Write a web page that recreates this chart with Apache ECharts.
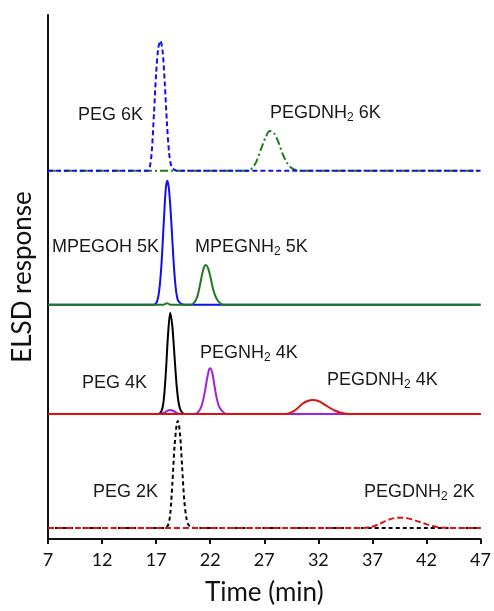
<!DOCTYPE html>
<html>
<head>
<meta charset="utf-8">
<script src="https://cdn.jsdelivr.net/npm/echarts@6/dist/echarts.min.js"></script>
<style>
  html, body { margin: 0; padding: 0; background: #fff; }
  #main { width: 494px; height: 611px; }
</style>
</head>
<body>
<div id="main"></div>
<script>
// tick labels of the time axis (min)
var timeTicks = [7, 12, 17, 22, 27, 32, 37, 42, 47];

// baseline offset of each stacked trace group (response units)
var groupBase = [371, 236, 126, 11];

// [time (min), response above its own baseline]
var peg6k = [[7,0],[16.2,0],[16.4,3],[16.6,20],[16.8,58],[17.0,98],[17.2,124],[17.4,131],[17.6,120],[17.8,88],[18.0,48],[18.2,18],[18.4,5],[18.7,1],[19.1,0],[47,0]];
var pegdnh6k = [[7,0],[25.4,0],[25.9,3],[26.3,10],[26.7,22],[27.1,33],[27.5,40],[27.9,38],[28.3,29],[28.7,17],[29.1,8],[29.5,3],[30.0,0.5],[30.5,0],[47,0]];
var mpegoh5k = [[7,0],[16.8,0],[17.1,4],[17.3,16],[17.5,42],[17.7,82],[17.9,118],[18.05,125],[18.2,115],[18.4,84],[18.6,46],[18.8,18],[19.0,5],[19.3,1],[19.6,0],[47,0]];
var mpegnh5k = [[7,0],[17.6,0],[18.0,1.5],[18.4,0],[20.2,0],[20.5,2],[20.8,8],[21.0,17],[21.2,28],[21.4,37],[21.6,40],[21.8,37],[22.0,29],[22.2,19],[22.4,11],[22.7,4],[23.0,1],[23.3,0],[47,0]];
var peg4k = [[7,0],[17.2,0],[17.5,3],[17.7,14],[17.9,42],[18.1,80],[18.3,102],[18.5,88],[18.7,58],[18.9,28],[19.1,10],[19.3,3],[19.6,0],[47,0]];
var pegnh4k = [[7,0],[17.4,0],[17.8,1.5],[18.1,3.5],[18.3,4],[18.6,3],[18.9,1],[19.3,0],[20.6,0],[20.9,2],[21.2,8],[21.5,22],[21.7,35],[21.9,45],[22.0,46],[22.2,41],[22.4,28],[22.6,16],[22.8,8],[23.1,3],[23.5,0],[47,0]];
var pegdnh4k = [[7,0],[29.0,0],[29.5,1.5],[30.0,5],[30.5,10],[31.0,13],[31.5,14],[32.0,13],[32.5,10],[33.0,6.5],[33.5,3.5],[34.0,1.5],[34.6,0.3],[35.2,0],[47,0]];
var peg2k = [[7,0],[17.8,0],[18.1,3],[18.3,14],[18.5,45],[18.7,82],[18.9,105],[19.0,108],[19.2,96],[19.4,62],[19.6,28],[19.8,10],[20.0,3],[20.3,1],[20.7,0],[47,0]];
var pegdnh2k = [[7,0],[36.0,0],[36.8,1],[37.5,3.5],[38.2,7],[38.9,9.8],[39.6,10.5],[40.3,9.8],[41.0,7.5],[41.7,5],[42.4,2.5],[43.1,1],[43.8,0.3],[44.5,0],[47,0]];

var traces = [
  { name: 'PEGDNH2 6K', data: pegdnh6k, group: 0, color: '#1f7a1f', dash: [8, 3, 2, 3] },
  { name: 'PEG 6K', data: peg6k, group: 0, color: '#1010f0', dash: [5, 3] },
  { name: 'MPEGOH 5K', data: mpegoh5k, group: 1, color: '#1010f0', dash: 'solid' },
  { name: 'MPEGNH2 5K', data: mpegnh5k, group: 1, color: '#1f7a1f', dash: 'solid' },
  { name: 'PEG 4K', data: peg4k, group: 2, color: '#000000', dash: 'solid' },
  { name: 'PEGNH2 4K', data: pegnh4k, group: 2, color: '#a020e0', dash: 'solid' },
  { name: 'PEGDNH2 4K', data: pegdnh4k, group: 2, color: '#dd1111', dash: 'solid' },
  { name: 'PEG 2K', data: peg2k, group: 3, color: '#000000', dash: [4, 3] },
  { name: 'PEGDNH2 2K', data: pegdnh2k, group: 3, color: '#dd1111', dash: [6, 3] }
];

var labelFont = '"Liberation Sans", Arial, sans-serif';
var richSub = {
  n: { fontSize: 18, fontFamily: labelFont, fill: '#1a1a1a' },
  s: { fontSize: 12, fontFamily: labelFont, fill: '#1a1a1a', padding: [10, 0, 0, 0] }
};

function peakLabel(text, x, y, align) {
  return {
    type: 'text',
    x: x,
    y: y,
    z: 10,
    style: {
      text: text,
      rich: richSub,
      align: align || 'left',
      verticalAlign: 'middle',
      fontSize: 18,
      fontFamily: labelFont,
      fill: '#1a1a1a'
    }
  };
}

var myChart = echarts.init(document.getElementById('main'));
option = {
  backgroundColor: '#fff',
  animation: false,
  grid: {
    left: 48,
    right: 11,
    top: 15,
    bottom: 68
  },
  xAxis: {
    type: 'value',
    min: 7,
    max: 47,
    name: 'Time (min)',
    nameLocation: 'middle',
    nameGap: 41,
    nameTextStyle: { fontFamily: 'Lato', fontSize: 26, color: '#111' },
    axisLine: { lineStyle: { color: '#111', width: 2 } },
    axisTick: { customValues: timeTicks, length: 5, lineStyle: { color: '#111', width: 2 } },
    axisLabel: { customValues: timeTicks, fontFamily: 'Lato', fontSize: 18, color: '#111', margin: 12 },
    splitLine: { show: false }
  },
  yAxis: {
    type: 'value',
    min: 0,
    max: 528,
    name: 'ELSD response',
    nameLocation: 'middle',
    nameGap: 12,
    nameTextStyle: { fontFamily: 'Lato', fontSize: 26, color: '#111' },
    axisLine: { show: true, lineStyle: { color: '#111', width: 2 } },
    axisTick: { show: false },
    axisLabel: { show: false },
    splitLine: { show: false }
  },
  graphic: [
    peakLabel('PEG 6K', 78, 115),
    peakLabel('{n|PEGDNH}{s|2}{n| 6K}', 270, 113),
    peakLabel('MPEGOH 5K', 52, 247),
    peakLabel('{n|MPEGNH}{s|2}{n| 5K}', 195, 247),
    peakLabel('{n|PEGNH}{s|2}{n| 4K}', 200, 353),
    peakLabel('PEG 4K', 147, 383, 'right'),
    peakLabel('{n|PEGDNH}{s|2}{n| 4K}', 327, 380),
    peakLabel('PEG 2K', 93, 492),
    peakLabel('{n|PEGDNH}{s|2}{n| 2K}', 364, 492)
  ],
  series: traces.map(function (t) {
    return {
      name: t.name,
      type: 'line',
      smooth: 0.3,
      showSymbol: false,
      symbol: 'none',
      lineStyle: { color: t.color, width: 2, type: t.dash },
      data: t.data.map(function (p) { return [p[0], p[1] + groupBase[t.group]]; })
    };
  })
};

myChart.setOption(option);
</script>
</body>
</html>
